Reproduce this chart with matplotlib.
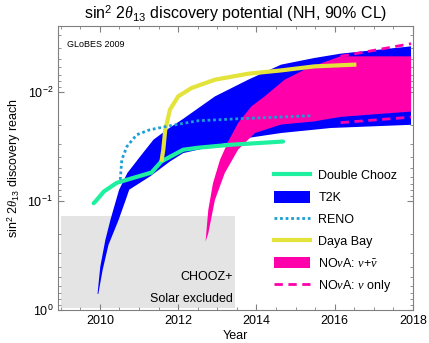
import matplotlib
matplotlib.use("Agg")
import matplotlib.pyplot as plt
import numpy as np
from matplotlib.lines import Line2D
from matplotlib.patches import Patch, Rectangle
from matplotlib.ticker import MultipleLocator, LogLocator

plt.rcParams["font.family"] = ["Liberation Sans", "DejaVu Sans"]
plt.rcParams["mathtext.fontset"] = "custom"
plt.rcParams["mathtext.rm"] = "Liberation Sans"
plt.rcParams["mathtext.it"] = "Liberation Serif:italic"
plt.rcParams["mathtext.bf"] = "Liberation Sans:bold"

# --- data (year, sin^2 2theta13 reach) ---
chooz_x = [2009.0, 2013.45]
chooz_y = [0.137, 0.95]

dc_year = [2009.84, 2009.885, 2010.10, 2010.43, 2010.86, 2011.32, 2011.57, 2012.13,
           2012.51, 2013.35, 2014.68]
dc_reach = [0.105, 0.1015, 0.0822, 0.0684, 0.0615, 0.055, 0.0436, 0.034,
            0.0326, 0.0306, 0.0286]

reno_year = [2010.52, 2010.56, 2010.69, 2010.94, 2011.28, 2011.70, 2012.51, 2013.53, 2015.39]
reno_reach = [0.0641, 0.042, 0.0318, 0.0248, 0.0223, 0.0208, 0.01845, 0.0177, 0.0166]

db_year = [2011.58, 2011.62, 2011.67, 2011.79, 2012.00, 2012.34, 2012.94, 2013.79,
           2014.63, 2015.48, 2016.50]
db_reach = [0.042, 0.034, 0.0223, 0.0146, 0.01104, 0.00925, 0.00776, 0.00684,
            0.00638, 0.00586, 0.00565]

t2k_best_year = [2009.94, 2010.01, 2010.14, 2010.27, 2010.49, 2010.70, 2011.03, 2011.37,
                 2011.75, 2012.13, 2012.94, 2013.79, 2014.63, 2015.48, 2016.15, 2017.95]
t2k_best_reach = [0.713, 0.401, 0.228, 0.149, 0.0793, 0.0557, 0.0392, 0.0275,
                  0.0218, 0.0177, 0.01104, 0.00776, 0.00565, 0.00491, 0.00448, 0.00384]
t2k_worst_year = [2009.96, 2010.07, 2010.22, 2010.48, 2010.66, 2010.75, 2011.28, 2011.79,
                  2012.13, 2012.51, 2013.79, 2014.63, 2015.90, 2017.95]
t2k_worst_reach = [0.713, 0.43, 0.253, 0.149, 0.098, 0.079, 0.0598, 0.0436,
                   0.0365, 0.034, 0.0265, 0.0239, 0.0215, 0.0201]

nova_best_year = [2012.70, 2012.77, 2012.89, 2013.07, 2013.28, 2013.53, 2013.87, 2014.21,
                  2014.72, 2015.31, 2016.15, 2017.95]
nova_best_reach = [0.236, 0.121, 0.0688, 0.042, 0.0285, 0.0194, 0.01364, 0.01104,
                   0.00776, 0.00607, 0.00474, 0.00474]
nova_worst_year = [2012.70, 2012.77, 2012.94, 2013.19, 2013.53, 2013.96, 2014.63, 2015.48,
                   2016.15, 2017.95]
nova_worst_reach = [0.236, 0.198, 0.098, 0.0557, 0.034, 0.0239, 0.0200, 0.0187,
                    0.0170, 0.0152]

nova_nu_year = [2016.15, 2017.95]
nova_nu_best = [0.00474, 0.00363]
nova_nu_worst = [0.0192, 0.0171]

GREEN = "#1ff0a0"
BLUE = "#0000ff"
CYAN = "#1a9fd6"
YELLOW = "#e3e33c"
PINK = "#ff00aa"

fig = plt.figure(figsize=(4.29, 3.43), dpi=100)
ax = fig.add_axes([58 / 429, 1 - 310 / 343, (413 - 58) / 429, (310 - 26) / 343])

ax.add_patch(Rectangle((chooz_x[0], chooz_y[0]), chooz_x[1] - chooz_x[0],
                       chooz_y[1] - chooz_y[0], color="#e4e4e4", lw=0, zorder=0))
ax.text(2013.4, 0.5, "CHOOZ+", ha="right", va="center", fontsize=9)
ax.text(2013.4, 0.8, "Solar excluded", ha="right", va="center", fontsize=9)

ax.fill(t2k_best_year + t2k_worst_year[::-1], t2k_best_reach + t2k_worst_reach[::-1],
        color=BLUE, lw=0, zorder=1)
ax.fill(nova_best_year + nova_worst_year[::-1], nova_best_reach + nova_worst_reach[::-1],
        color=PINK, lw=0, zorder=2)

ax.plot(dc_year, dc_reach, color=GREEN, lw=3, solid_capstyle="round",
        solid_joinstyle="round", zorder=4)
ax.plot(reno_year, reno_reach, color=CYAN, lw=2, ls=(0, (1, 1)), zorder=5)
ax.plot(db_year, db_reach, color=YELLOW, lw=3, solid_joinstyle="round", zorder=4)
ax.plot(nova_nu_year, nova_nu_best, color=PINK, lw=2, ls=(0, (3, 2)), zorder=5)
ax.plot(nova_nu_year, nova_nu_worst, color=PINK, lw=2, ls=(0, (3, 2)), zorder=5)

ax.set_yscale("log")
ax.set_ylim(1.0, 0.0025)
ax.set_xlim(2008.93, 2018.0)
ax.xaxis.set_major_locator(MultipleLocator(2))
ax.xaxis.set_minor_locator(MultipleLocator(0.5))
ax.yaxis.set_major_locator(LogLocator(base=10, numticks=10))
ax.yaxis.set_minor_locator(LogLocator(base=10, subs=np.arange(2, 10), numticks=10))
ax.tick_params(which="both", direction="in", top=True, right=True, color="#808080",
               labelsize=9)
ax.tick_params(which="major", length=4)
ax.tick_params(which="minor", length=2)
for s in ax.spines.values():
    s.set_color("#808080")

ax.set_xlabel("Year", fontsize=9, labelpad=2)
ax.set_ylabel("sin$^2$ 2$\\theta_{13}$ discovery reach", fontsize=9, labelpad=3)
ax.set_title("sin$^2$ 2$\\theta_{13}$ discovery potential (NH, 90% CL)", fontsize=11.5, pad=5)
ax.text(2009.15, 0.0037, "GLoBES 2009", fontsize=6.5, va="center")

handles = [
    Line2D([], [], color=GREEN, lw=3),
    Patch(facecolor=BLUE, edgecolor="none"),
    Line2D([], [], color=CYAN, lw=2, ls=(0, (1, 1))),
    Line2D([], [], color=YELLOW, lw=3),
    Patch(facecolor=PINK, edgecolor="none"),
    Line2D([], [], color=PINK, lw=2, ls=(0, (3, 2))),
]
labels = ["Double Chooz", "T2K", "RENO", "Daya Bay",
          "NO$\\nu$A: $\\nu$+$\\bar{\\nu}$", "NO$\\nu$A: $\\nu$ only"]
ax.legend(handles, labels, loc="lower right", frameon=False, fontsize=9,
          handlelength=2.9, handleheight=1.05, labelspacing=0.7, handletextpad=0.65,
          bbox_to_anchor=(1.0, 0.0), borderaxespad=0.85)

fig.savefig("out.png", dpi=100)
